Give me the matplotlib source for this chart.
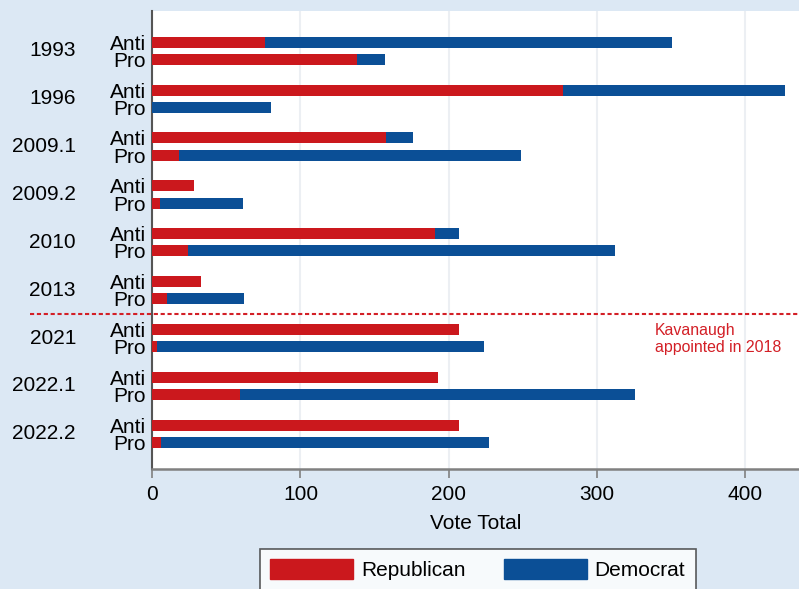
import matplotlib
matplotlib.use('Agg')
import matplotlib.pyplot as plt
import matplotlib.patches as mpatches
import numpy as np

plt.rcParams['font.family'] = ['Liberation Sans', 'DejaVu Sans']

# vote counts
years = ['1993', '1996', '2009.1', '2009.2', '2010', '2013', '2021', '2022.1', '2022.2']
anti_rep = [76, 277, 158, 28, 191, 33, 207, 193, 207]
anti_dem = [275, 150, 18, 0, 16, 0, 0, 0, 0]
pro_rep = [138, 0, 18, 5, 24, 10, 3, 59, 6]
pro_dem = [19, 80, 231, 56, 288, 52, 221, 267, 221]

red = '#cb181d'
blue = '#0b4f96'
bg = '#dce8f4'
fs = 15

fig = plt.figure(figsize=(7.99, 5.89), dpi=100, facecolor=bg)
ax = fig.add_axes([152.3/799, (589-469)/589, (799-152.3)/799, (469-11)/589])
ax.set_facecolor('white')

grp = np.arange(len(years))
off = 0.18
h = 0.23
y_anti = grp - off
y_pro = grp + off

ax.barh(y_anti, anti_rep, height=h, color=red, zorder=3)
ax.barh(y_anti, anti_dem, left=anti_rep, height=h, color=blue, zorder=3)
ax.barh(y_pro, pro_rep, height=h, color=red, zorder=3)
ax.barh(y_pro, pro_dem, left=pro_rep, height=h, color=blue, zorder=3)

ax.set_xlim(0, 436.4)
ax.set_ylim(len(years) - 1 + 0.734, -0.83)

# y labels: Anti / Pro as ticks, years as text further left
ax.set_yticks(np.concatenate([y_anti, y_pro]))
ax.set_yticklabels(['Anti'] * len(years) + ['Pro'] * len(years), fontsize=fs)
ax.tick_params(axis='y', length=0, pad=4.5)
for g, yr in zip(grp, years):
    ax.text(-0.118, g, yr, transform=ax.get_yaxis_transform(), ha='right',
            va='center', fontsize=fs)

ax.set_xticks([0, 100, 200, 300, 400])
ax.tick_params(axis='x', labelsize=fs, length=6.7, width=1.2, color='#808080', pad=5)
ax.grid(axis='x', color='#eceff3', lw=1.5, zorder=0)
ax.set_xlabel('Vote Total', fontsize=fs, labelpad=7)

for s in ['top', 'right']:
    ax.spines[s].set_visible(False)
ax.spines['left'].set_color('#555555')
ax.spines['left'].set_linewidth(1.5)
ax.spines['bottom'].set_color('#808080')
ax.spines['bottom'].set_linewidth(1.8)

# Kavanaugh divider
ax.axhline(5.5, xmin=-0.189, xmax=1, color='#d31f26', lw=1.5,
           ls=(0, (2, 1.3)), clip_on=False, zorder=4)
ax.text(339, 5.68, 'Kavanaugh\nappointed in 2018', color='#d31f26', fontsize=11.4,
        ha='left', va='top', linespacing=1.15)

handles = [mpatches.Patch(color=red, label='Republican'),
           mpatches.Patch(color=blue, label='Democrat')]
leg = fig.legend(handles=handles, loc='upper left', bbox_to_anchor=(260/799, (589-549)/589),
                 bbox_transform=fig.transFigure, ncol=2, fontsize=fs, frameon=True,
                 fancybox=False, edgecolor='#333333', borderpad=0.5, handlelength=3.98,
                 handleheight=1.09, handletextpad=0.37, columnspacing=1.85,
                 borderaxespad=0)
leg.get_frame().set_linewidth(1.2)
leg.get_frame().set_facecolor('white')

fig.savefig('out.png', dpi=100, facecolor=bg)
